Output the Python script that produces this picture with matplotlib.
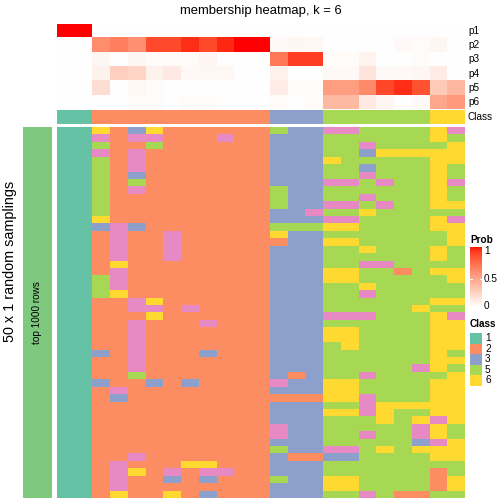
import numpy as np
import matplotlib
matplotlib.use("Agg")
import matplotlib.pyplot as plt
from matplotlib.colors import ListedColormap

plt.rcParams['font.family'] = ['Liberation Sans', 'DejaVu Sans']

# ---------------- data ----------------
title = "membership heatmap, k = 6"
row_title = "50 x 1 random samplings"
slice_title = "top 1000 rows"

class_levels = [1, 2, 3, 4, 5, 6]
class_colors = ["#66C2A5", "#FC8D62", "#8DA0CB", "#E78AC3", "#A6D854", "#FFD92F"]
legend_classes = [1, 2, 3, 5, 6]

column_class = [1, 1, 2, 2, 2, 2, 2, 2, 2, 2, 2, 2, 3, 3, 3, 5, 5, 5, 5, 5, 5, 6, 6]

prob_labels = ["p1", "p2", "p3", "p4", "p5", "p6"]
p1 = [1, 1, 0, 0, 0, 0, 0, 0, 0, 0, 0, 0, 0, 0, 0, 0, 0, 0, 0, 0, 0, 0, 0]
p2 = [0, 0, .58, .65, .57, .86, .86, .94, .86, .95, 1, 1, .03, .05, .04, 0, 0, 0, 0, .03, .02, .05, 0]
p3 = [0, 0, .05, 0, .05, .02, .02, .02, .05, 0, 0, 0, .68, .9, .9, .02, .02, .06, 0, 0, .02, 0, 0]
p4 = [0, 0, .07, .25, .22, .07, .11, .03, .04, .04, 0, 0, .07, 0, 0, .03, .03, .14, .03, .03, .05, .1, 0]
p5 = [0, 0, .17, 0, .04, .02, 0, 0, 0, 0, 0, 0, .09, .02, .02, .5, .5, .6, .87, .94, .83, .27, .37]
p6 = [0, 0, 0, 0, .02, .02, 0, .02, .02, 0, 0, 0, .02, 0, .02, .36, .36, .11, .05, 0, .03, .46, .52]

sampling_rows = [
    "11 6236222222 533 445555 64",
    "11 4244222422 333 555555 65",
    "11 5225222222 333 554555 56",
    "11 4242222222 333 553666 66",
    "11 5242222222 333 655555 66",
    "11 5242222222 333 553555 65",
    "11 5232222222 333 554555 65",
    "11 5252222222 333 445455 64",
    "11 5242222222 533 555555 65",
    "11 5222222222 533 554555 65",
    "11 5222222222 533 445455 66",
    "11 5222222222 334 556555 55",
    "11 6222222222 333 445555 64",
    "11 3432222222 555 665555 66",
    "11 2422422222 633 555555 56",
    "11 2422422222 233 665555 56",
    "11 2422422222 333 556555 65",
    "11 2422422222 333 555555 65",
    "11 2622222222 333 554455 55",
    "11 2422222222 333 665525 66",
    "11 5422222222 333 665555 56",
    "11 5422222222 333 556555 55",
    "11 5622222222 333 554555 55",
    "11 2246222222 333 555555 66",
    "11 2244242222 333 555556 55",
    "11 2226222222 333 444555 64",
    "11 2242224222 333 555555 66",
    "11 2242222222 333 665555 66",
    "11 2242222222 333 665555 66",
    "11 2242222222 333 565555 66",
    "11 3242223222 333 555555 65",
    "11 2242222222 333 555555 66",
    "11 2242222222 333 555554 65",
    "11 2252222222 323 554555 56",
    "11 3223232222 433 665555 66",
    "11 2422222222 333 665555 66",
    "11 2322222222 222 664555 66",
    "11 2222222222 333 554666 66",
    "11 2222222222 333 664655 66",
    "11 2222222222 333 555656 46",
    "11 2222222222 433 555554 65",
    "11 2222222222 433 554554 65",
    "11 2222222222 333 555553 46",
    "11 2222222222 533 445656 66",
    "11 2242222222 322 335555 66",
    "11 2422266222 333 555555 55",
    "11 2462424422 333 555555 25",
    "11 2422323222 533 665555 26",
    "11 2422222222 333 665555 26",
    "11 2622623222 333 554522 55",
]

# ---------------- colour helpers ----------------
def srgb_to_lab(rgb):
    rgb = np.asarray(rgb, float)
    lin = np.where(rgb <= 0.04045, rgb / 12.92, ((rgb + 0.055) / 1.055) ** 2.4)
    M = np.array([[0.4124, 0.3576, 0.1805],
                  [0.2126, 0.7152, 0.0722],
                  [0.0193, 0.1192, 0.9505]])
    xyz = M @ lin
    xyz = xyz / np.array([0.95047, 1.0, 1.08883])
    f = np.where(xyz > 0.008856, np.cbrt(xyz), 7.787 * xyz + 16 / 116)
    return np.array([116 * f[1] - 16, 500 * (f[0] - f[1]), 200 * (f[1] - f[2])])

def lab_to_srgb(lab):
    L, a, b = lab
    fy = (L + 16) / 116
    fx = fy + a / 500
    fz = fy - b / 200
    f = np.array([fx, fy, fz])
    xyz = np.where(f ** 3 > 0.008856, f ** 3, (f - 16 / 116) / 7.787)
    xyz = xyz * np.array([0.95047, 1.0, 1.08883])
    Minv = np.array([[3.2406, -1.5372, -0.4986],
                     [-0.9689, 1.8758, 0.0415],
                     [0.0557, -0.2040, 1.0570]])
    lin = np.clip(Minv @ xyz, 0, 1)
    s = np.where(lin <= 0.0031308, 12.92 * lin, 1.055 * lin ** (1 / 2.4) - 0.055)
    return np.clip(s, 0, 1)

lab_w = srgb_to_lab([1, 1, 1])
lab_r = srgb_to_lab([1, 0, 0])
prob_cmap = ListedColormap([lab_to_srgb(lab_w + (lab_r - lab_w) * t) for t in np.linspace(0, 1, 256)])
class_cmap = ListedColormap(class_colors)

# ---------------- layout ----------------
W = H = 504
fig = plt.figure(figsize=(W / 100, H / 100), dpi=100)

def px_axes(x0, y0, x1, y1):
    ax = fig.add_axes([x0 / W, 1 - y1 / H, (x1 - x0) / W, (y1 - y0) / H])
    ax.set_xticks([]); ax.set_yticks([])
    for s in ax.spines.values():
        s.set_visible(False)
    return ax

X0, X1 = 57, 465
P_TOP, P_ROW = 24, 14.2
CL_TOP, CL_BOT = 110, 124.3
M_TOP, M_BOT = 126.7, 497.5

# probability annotation
prob = np.array([p1, p2, p3, p4, p5, p6])
ax_p = px_axes(X0, P_TOP, X1, P_TOP + 6 * P_ROW)
ax_p.imshow(prob, cmap=prob_cmap, vmin=0, vmax=1, aspect='auto', interpolation='nearest')

# class annotation
ax_c = px_axes(X0, CL_TOP, X1, CL_BOT)
ax_c.imshow(np.array([column_class]), cmap=class_cmap, vmin=0.5, vmax=6.5,
            aspect='auto', interpolation='nearest')

# main heatmap
mat = np.array([[int(ch) for ch in r.replace(" ", "")] for r in sampling_rows])
ax_m = px_axes(X0, M_TOP, X1, M_BOT)
ax_m.imshow(mat, cmap=class_cmap, vmin=0.5, vmax=6.5, aspect='auto', interpolation='nearest')

# left slice title bar
ax_s = px_axes(23, M_TOP, 51.5, M_BOT)
ax_s.set_facecolor("#7FC97F")
ax_s.text(0.5, 0.5, slice_title, rotation=90, ha='center', va='center',
          fontsize=7.2, transform=ax_s.transAxes)

fig.text(10 / W, 1 - 261 / H, row_title, rotation=90, ha='center', va='center', fontsize=10.4)
fig.text(261 / W, 1 - 11 / H, title, ha='center', va='center', fontsize=9.4)

# right labels
for i, lab in enumerate(prob_labels):
    fig.text(468 / W, 1 - (P_TOP + P_ROW * (i + 0.5)) / H, lab, ha='left', va='center', fontsize=7.2)
fig.text(468 / W, 1 - ((CL_TOP + CL_BOT) / 2) / H, "Class", ha='left', va='center', fontsize=7.2)

# Prob legend
fig.text(470 / W, 1 - 240 / H, "Prob", ha='left', va='center', fontsize=7.2, fontweight='bold')
ax_cb = px_axes(470, 247, 482, 307)
grad = np.linspace(1, 0, 200).reshape(-1, 1)
ax_cb.imshow(grad, cmap=prob_cmap, vmin=0, vmax=1, aspect='auto', extent=[0, 1, 0, 1])
for v, ypx in [(1, 251), (0.5, 279), (0, 306)]:
    fig.text(484 / W, 1 - ypx / H, f"{v:g}", ha='left', va='center', fontsize=7.2)
for yy in [(307 - 279) / 60]:
    ax_cb.plot([0, 0.2], [yy, yy], color='white', lw=0.8)
    ax_cb.plot([0.8, 1], [yy, yy], color='white', lw=0.8)
ax_cb.set_xlim(0, 1); ax_cb.set_ylim(0, 1)

# Class legend
fig.text(470 / W, 1 - 324 / H, "Class", ha='left', va='center', fontsize=7.2, fontweight='bold')
for i, c in enumerate(legend_classes):
    y0 = 333 + 10.5 * i
    ax_l = px_axes(470, y0, 482, y0 + 10.5)
    ax_l.set_facecolor(class_colors[class_levels.index(c)])
    fig.text(485 / W, 1 - (y0 + 5.25) / H, str(c), ha='left', va='center', fontsize=7.2)

fig.savefig("out.png", dpi=100)
